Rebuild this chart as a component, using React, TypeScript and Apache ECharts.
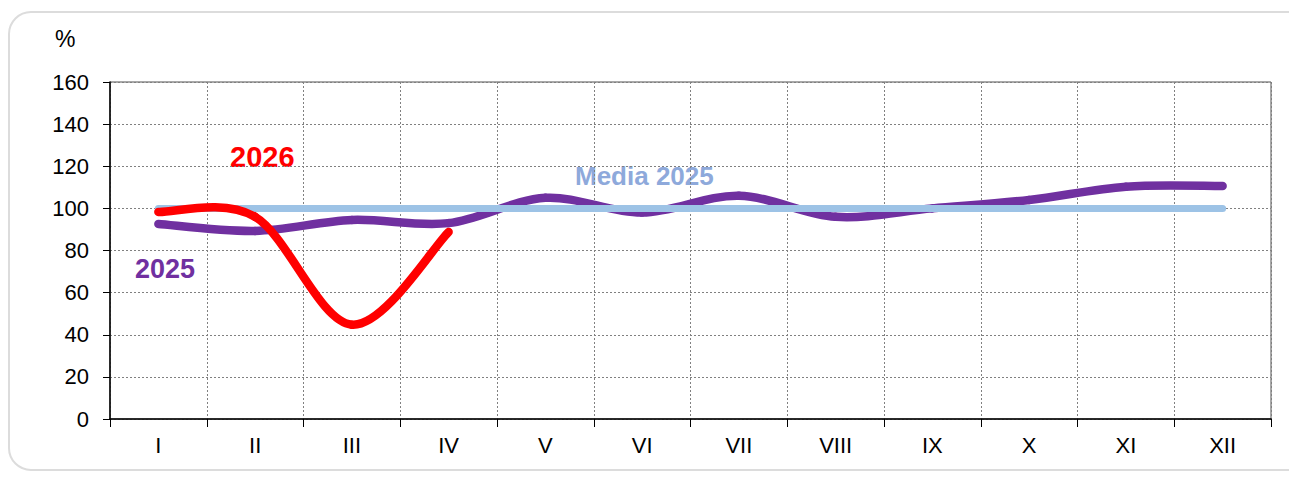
import React, { useEffect, useRef } from "react";
import * as echarts from "echarts";

const months = ["I", "II", "III", "IV", "V", "VI", "VII", "VIII", "IX", "X", "XI", "XII"];
const values2025 = [92.6, 89.3, 94.5, 93, 105, 98, 106, 96, 100, 104, 110.3, 110.6];
const values2026 = [98.3, 96, 44.8, 88.8];
const media2025 = [100, 100, 100, 100, 100, 100, 100, 100, 100, 100, 100, 100];
const yTicks = { min: 0, max: 160, interval: 20 };

function smoothSeries(name: string, values: number[], color: string, width: number, z: number) {
  return {
    name,
    type: "custom",
    z,
    data: values.map((v, i) => [i, v]),
    encode: { x: 0, y: 1 },
    renderItem: (params: any, api: any) => {
      const i = params.dataIndex;
      const n = values.length;
      if (i >= n - 1) return { type: "group", children: [] };
      const pt = (k: number) => {
        const kk = Math.max(0, Math.min(n - 1, k));
        return api.coord([kk, values[kk]]);
      };
      const p0 = pt(i - 1), p1 = pt(i), p2 = pt(i + 1), p3 = pt(i + 2);
      const c1 = [p1[0] + (p2[0] - p0[0]) / 6, p1[1] + (p2[1] - p0[1]) / 6];
      const c2 = [p2[0] - (p3[0] - p1[0]) / 6, p2[1] - (p3[1] - p1[1]) / 6];
      const d = `M${p1[0]},${p1[1]} C${c1[0]},${c1[1]} ${c2[0]},${c2[1]} ${p2[0]},${p2[1]}`;
      return {
        type: "path",
        shape: { pathData: d },
        style: { fill: "none", stroke: color, lineWidth: width, lineCap: "round", lineJoin: "round" },
      };
    },
  };
}

export default function App() {
  const ref = useRef<HTMLDivElement>(null);
  useEffect(() => {
    if (!ref.current) return;
    const chart = echarts.init(ref.current, undefined, { renderer: "svg" });
    const font = "'Liberation Sans', Arial, sans-serif";
    chart.setOption({
      animation: false,
      textStyle: { fontFamily: font },
      grid: {
        left: 110, right: 18, top: 82, bottom: 58,
        show: true, borderColor: "#505050", borderWidth: 1,
      },
      xAxis: {
        type: "category",
        data: months,
        boundaryGap: true,
        axisLine: { lineStyle: { color: "#000", width: 1.5 } },
        axisTick: { show: true, length: 8, lineStyle: { color: "#000" } },
        axisLabel: { color: "#000", fontSize: 22, margin: 15, fontFamily: font },
        splitLine: { show: true, lineStyle: { color: "#808080", type: [2, 2], width: 1 } },
      },
      yAxis: {
        type: "value",
        min: yTicks.min, max: yTicks.max, interval: yTicks.interval,
        axisLine: { show: true, lineStyle: { color: "#000", width: 1.5 } },
        axisTick: { show: true, length: 7, lineStyle: { color: "#000" } },
        axisLabel: { color: "#000", fontSize: 22, margin: 21, fontFamily: font },
        splitLine: { show: true, lineStyle: { color: "#808080", type: [2, 2], width: 1 } },
      },
      series: [
        smoothSeries("2025", values2025, "#7030A0", 8.5, 2),
        {
          name: "Media 2025", type: "line", data: media2025, symbol: "none",
          lineStyle: { color: "#9DC3E6", width: 7, cap: "round" }, z: 3,
        },
        smoothSeries("2026", values2026, "#FF0000", 8.5, 4),
      ],
      graphic: [
        {
          type: "rect", silent: true, z: -10,
          shape: { x: 9, y: 12, width: 1300, height: 458, r: 22 },
          style: { fill: "none", stroke: "#DCDCDC", lineWidth: 2 },
        },
        {
          type: "text", x: 55, y: 39,
          style: { text: "%", fill: "#000", font: `23px ${font}`, verticalAlign: "middle", align: "left" },
        },
        {
          type: "text", x: 230, y: 157,
          style: { text: "2026", fill: "#FF0000", font: `bold 29px ${font}`, verticalAlign: "middle", align: "left" },
        },
        {
          type: "text", x: 575, y: 176,
          style: { text: "Media 2025", fill: "#8EA9DB", font: `bold 26px ${font}`, verticalAlign: "middle", align: "left" },
        },
        {
          type: "text", x: 135, y: 269,
          style: { text: "2025", fill: "#7030A0", font: `bold 27px ${font}`, verticalAlign: "middle", align: "left" },
        },
      ],
    });
    return () => chart.dispose();
  }, []);
  return <div ref={ref} style={{ position: "absolute", left: 0, top: 0, width: 1289, height: 477 }} />;
}
